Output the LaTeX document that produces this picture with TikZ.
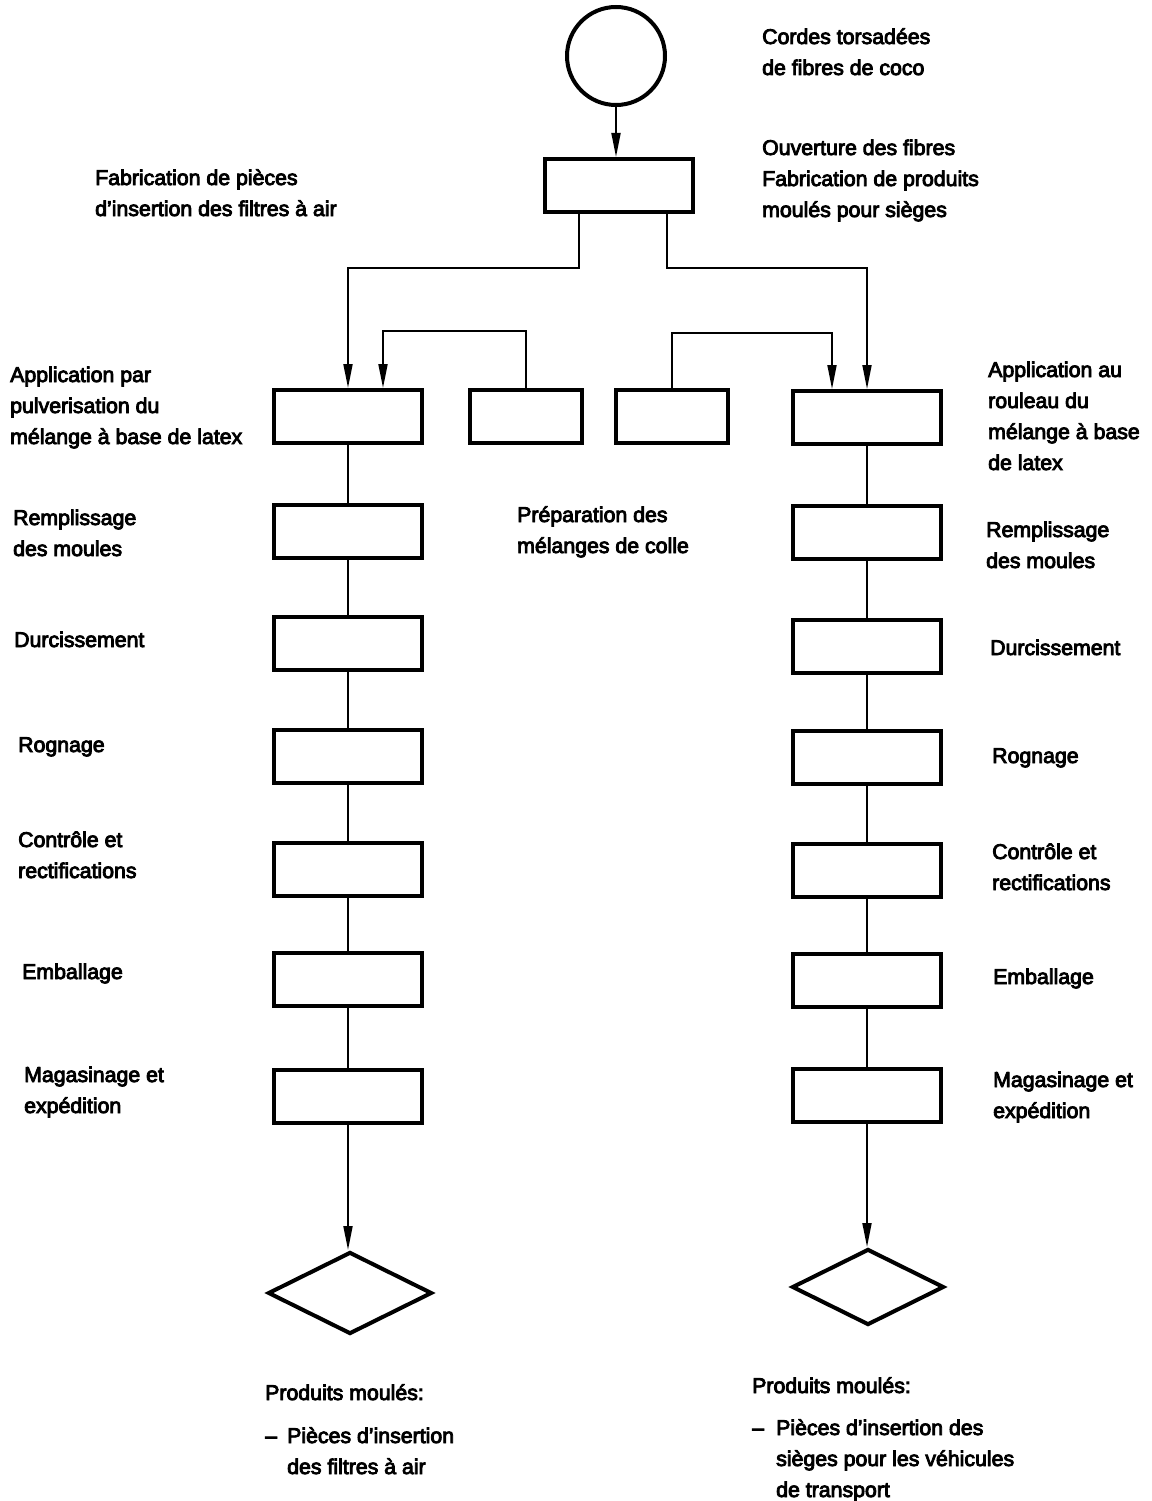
\documentclass[tikz,border=0pt]{standalone}
\usepackage{fontspec}
\setmainfont{Liberation Sans}[FakeBold=4]
\usetikzlibrary{arrows.meta,shapes.geometric}
\tikzset{
  stp/.style = {rectangle, draw=black, line width=4pt, inner sep=0pt,
    minimum width=148pt, minimum height=53pt},% process box
  sstp/.style = {stp, minimum width=112pt},% small box (glue)
  orig/.style = {circle, draw=black, line width=4pt, inner sep=0pt,
    minimum size=98pt},
  dst/.style = {diamond, draw=black, line width=4pt, inner sep=0pt},
  lbl/.style = {anchor=base west, align=left, inner sep=0pt,
    font=\fontsize{21.3}{31}\selectfont},% placed at last baseline
  flow/.style = {line width=1.8pt}
}

\begin{document}
\begin{tikzpicture}[x=1pt,y=-1pt,>={Triangle[length=24pt,width=9pt]}]
\useasboundingbox (0,0) rectangle (1151,1501);
% top
\node [orig] (src) at (616,56) {};
\node [stp] (ouv) at (619,185.5) {};
\node [lbl] (tsrc) at (762,75) {Cordes torsadées\\de fibres de coco};
\node [lbl] (touv) at (762,217) {Ouverture des fibres\\Fabrication de produits\\moulés pour sièges};
\node [lbl] (tfil) at (95,216) {Fabrication de pièces\\d'insertion des filtres à air};
% left column
\node [stp] (l1) at (348,416.5) {};
\node [stp] (l2) at (348,531.5) {};
\node [stp] (l3) at (348,643.5) {};
\node [stp] (l4) at (348,756.5) {};
\node [stp] (l5) at (348,869.5) {};
\node [stp] (l6) at (348,979.5) {};
\node [stp] (l7) at (348,1096.5) {};
\node [dst, minimum width=164pt, minimum height=82pt] (dl) at (350,1293) {};
% glue boxes
\node [sstp] (gl) at (526,416.5) {};
\node [sstp] (gr) at (672,416.5) {};
% right column
\node [stp] (r1) at (867,417.5) {};
\node [stp] (r2) at (867,532.5) {};
\node [stp] (r3) at (867,646.5) {};
\node [stp] (r4) at (867,757.5) {};
\node [stp] (r5) at (867,870.5) {};
\node [stp] (r6) at (867,980.5) {};
\node [stp] (r7) at (867,1095.5) {};
\node [dst, minimum width=152pt, minimum height=76pt] (dr) at (868,1287) {};
% labels
\node [lbl] (tl1) at (10,444) {Application par\\pulverisation du\\mélange à base de latex};
\node [lbl] (tl2) at (13,556) {Remplissage\\des moules};
\node [lbl] (tl3) at (14,647) {Durcissement};
\node [lbl] (tl4) at (18,752) {Rognage};
\node [lbl] (tl5) at (18,878) {Contrôle et\\rectifications};
\node [lbl] (tl6) at (22,979) {Emballage};
\node [lbl] (tl7) at (24,1113) {Magasinage et\\expédition};
\node [lbl] (tgl) at (517,553) {Préparation des\\mélanges de colle};
\node [lbl] (tr1) at (988,470) {Application au\\rouleau du\\mélange à base\\de latex};
\node [lbl] (tr2) at (986,568) {Remplissage\\des moules};
\node [lbl] (tr3) at (990,655) {Durcissement};
\node [lbl] (tr4) at (992,763) {Rognage};
\node [lbl] (tr5) at (992,890) {Contrôle et\\rectifications};
\node [lbl] (tr6) at (993,984) {Emballage};
\node [lbl] (tr7) at (993,1118) {Magasinage et\\expédition};
\node [lbl] (tdl) at (265,1474) {Produits moulés:\\[12pt]\makebox[22pt][l]{--}Pièces d'insertion\\\hspace*{22pt}des filtres à air};
\node [lbl] (tdr) at (752,1497) {Produits moulés:\\[11pt]\makebox[24pt][l]{--}Pièces d'insertion des\\\hspace*{24pt}sièges pour les véhicules\\\hspace*{24pt}de transport};
% connectors
\coordinate (jl) at (348,268);
\coordinate (jr) at (867,268);
\draw [flow,->] (src) -- (src |- ouv.north);
\draw [flow,->] ([xshift=-40pt]ouv.south) |- (jl) -- (l1.north);
\draw [flow,->] ([xshift=48pt]ouv.south) |- (jr) -- (r1.north);
\draw [flow,->] (gl.north) -- ++(0,-57) -| ([xshift=35pt]l1.north);
\draw [flow,->] (gr.north) -- ++(0,-55) -| ([xshift=-35pt]r1.north);
\foreach \a/\b in {1/2,2/3,3/4,4/5,5/6,6/7}{
  \draw [flow] (l\a) -- (l\b);
  \draw [flow] (r\a) -- (r\b);
}
\draw [flow,->] (l7.south) -- (l7.south |- dl.north);
\draw [flow,->] (r7.south) -- (r7.south |- dr.north);
\end{tikzpicture}
\end{document}
